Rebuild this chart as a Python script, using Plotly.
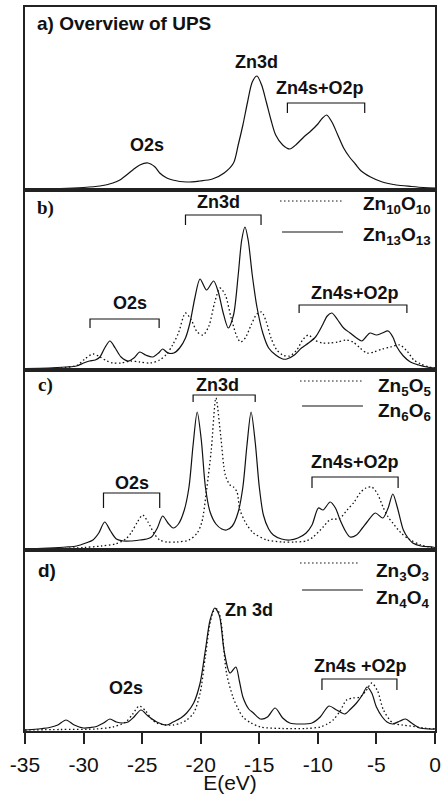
import plotly.graph_objects as go
from plotly.subplots import make_subplots

# ---------------- data (energy in eV, intensity in arbitrary units) ----------------
# a) Overview of UPS
E_a = [-35, -32, -30, -28.6, -27.5, -26.9, -25.8, -25.2, -24.5, -23.9, -23.5, -22.9, -22.4, -21.2, -20.1,
       -19, -18, -17.2, -16.8, -16.4, -16, -15.6, -15.2, -14.8, -14.4, -14, -13.6, -13, -12.4, -11.8,
       -11.2, -10.6, -10, -9.6, -9.25, -8.8, -8.3, -7.8, -7.3, -6.8, -6.3, -5.5, -4.5, -3.3, -2, -1, 0]
I_a = [1, 1.5, 2.5, 4, 7, 10, 20, 25, 27, 23, 17, 12, 10, 8, 9,
       11, 17, 27, 45, 65, 88, 108, 114, 105, 88, 70, 55, 45, 41, 46,
       53, 59, 66, 72, 75, 68, 55, 42, 33, 26, 19, 13, 8, 5, 3.5, 2.5, 2]

# b) Zn10O10 (dotted) and Zn13O13 (solid)
E_b10 = [-35, -32, -30.5, -29.9, -29.2, -28.6, -28, -27.5, -26.8, -26, -25.2, -24.3, -23.5, -22.9, -22.4,
         -21.9, -21.3, -20.8, -20.3, -19.8, -19.3, -18.8, -18.35, -17.9, -17.4, -16.9, -16.6, -16.2, -15.7, -15.2,
         -14.8, -14.4, -14, -13.5, -13, -12.4, -11.8, -11.3, -10.8, -10.3, -9.6, -9, -8.3, -7.6, -7,
         -6.4, -5.8, -5.2, -4.5, -3.8, -3, -2.4, -1.8, -1.2, -0.5, 0]
I_b10 = [1, 2, 5, 11, 16, 13, 9, 7, 7, 9, 8, 7, 10, 16, 25,
         37, 57, 50, 38, 35, 44, 68, 82, 75, 52, 33, 28, 32, 45, 56,
         58, 48, 32, 20, 15, 14, 20, 30, 35, 30, 27, 27, 28, 30, 28,
         22, 17, 18, 21, 23, 25, 19, 10, 6, 3, 2]
E_b13 = [-35, -33, -31.5, -30.6, -30, -29.5, -29, -28.6, -28.2, -27.75, -27.3, -26.8, -26.2, -25.7, -25.2,
         -24.7, -24.1, -23.6, -23.25, -22.8, -22.3, -21.8, -21.3, -20.9, -20.5, -20.06, -19.5, -18.9, -18.5, -18.1,
         -17.65, -17.2, -16.8, -16.5, -16.22, -15.95, -15.6, -15.2, -14.7, -14.2, -13.6, -13, -12.65, -12, -11.4,
         -10.8, -10.2, -9.6, -9.2, -8.8, -8.3, -7.8, -7.25, -6.7, -6.25, -5.9, -5.55, -5, -4.5, -4,
         -3.6, -3.25, -2.7, -2.1, -1.4, -0.7, 0]
I_b13 = [1.5, 2, 3, 4, 7, 9, 10, 13, 22, 29, 22, 13, 9, 12, 18,
         15, 13, 17, 21, 17, 17, 22, 32, 48, 72, 91, 80, 89, 78, 58,
         42, 55, 95, 130, 143, 130, 95, 63, 37, 22, 15, 11, 11, 15, 22,
         27, 33, 45, 54, 57, 50, 42, 37, 32, 29, 33, 37, 35, 37, 39,
         33, 23, 14, 8, 5, 3, 2]

# c) Zn5O5 (dotted) and Zn6O6 (solid)
E_c5 = [-35, -32, -30, -28.5, -27.3, -26.4, -25.9, -25.4, -24.95, -24.5, -24, -23.5, -22.9, -22, -21,
        -20.3, -19.9, -19.5, -19.1, -18.7, -18.3, -17.9, -17.5, -17.2, -16.9, -16.65, -16.1, -15.5, -14.35, -13,
        -12, -11, -10.4, -9.55, -9, -8.6, -8.2, -7.5, -6.9, -6.4, -5.9, -5.4, -4.9, -4.44, -4,
        -3.6, -2.9, -2.1, -1.2, -0.5, 0]
I_c5 = [1, 1.5, 2.5, 4, 6, 11, 18, 28, 35, 28, 17, 10, 8, 8, 10,
        17, 28, 60, 100, 152, 115, 75, 65, 63, 58, 40, 26, 17, 10, 8,
        8, 9, 13, 23, 30, 31, 31, 40, 48, 57, 62, 63, 56, 43, 33,
        27, 17, 10, 5, 3, 2]
E_c6 = [-35, -33, -31.5, -30.6, -29.8, -29.2, -28.7, -28.2, -27.7, -27.2, -26.6, -26, -25.2, -24.6, -24.2,
        -23.7, -23.25, -22.8, -22.35, -21.9, -21.4, -21, -20.65, -20.3, -19.95, -19.6, -19.2, -18.7, -18.2, -17.8,
        -17.3, -16.8, -16.4, -16.05, -15.7, -15.35, -15, -14.65, -14.2, -13.8, -13.1, -12.4, -11.7, -11, -10.5,
        -9.95, -9.55, -8.95, -8.5, -8.1, -7.6, -7.25, -6.7, -6.2, -5.8, -5.1, -4.45, -4, -3.6, -3.2,
        -2.7, -2.3, -1.9, -1.2, -0.2, 0]
I_c6 = [1, 2, 3, 4, 7, 10, 17, 28, 19, 11, 9, 9, 10, 11, 13,
        22, 34, 27, 22, 26, 40, 63, 105, 138, 110, 63, 38, 26, 21, 20,
        24, 38, 63, 105, 138, 108, 63, 35, 21, 15, 11, 10, 12, 17, 25,
        42, 40, 48, 42, 30, 18, 13, 15, 22, 28, 37, 32, 42, 56, 42,
        20, 12, 7, 4, 3, 2.5]

# d) Zn3O3 (dotted) and Zn4O4 (solid)
E_d3 = [-35, -32, -29, -27.5, -26.4, -25.8, -25.25, -24.7, -24.2, -23.75, -23, -22.35, -21.7, -21.2, -20.6,
        -20.05, -19.6, -19.2, -18.9, -18.6, -18.3, -17.8, -17.25, -16.8, -16.4, -15.7, -14.9, -13, -11, -9.8,
        -9.2, -8.7, -8.1, -7.55, -7, -6.4, -5.9, -5.4, -4.9, -4.4, -3.6, -2.8, -2.1, -1, 0]
I_d3 = [1, 1.5, 2, 4, 9, 17, 25, 20, 12, 8, 6, 6, 8, 11, 18,
        38, 75, 108, 120, 122, 112, 58, 34, 22, 14, 8, 4, 2.5, 2.5, 4,
        7, 11, 20, 31, 33, 34, 40, 48, 40, 21, 8, 6, 5, 3, 2]
E_d4 = [-35, -34.4, -33.5, -32.9, -32.2, -31.5, -30.8, -30, -29.4, -28.9, -28.3, -27.75, -27.2, -26.7, -26.2,
        -25.7, -25.1, -24.5, -23.75, -22.9, -22.35, -21.7, -21.2, -20.6, -20.05, -19.6, -19.2, -18.8, -18.4, -18,
        -17.5, -17, -16.7, -16.4, -15.9, -15.5, -14.9, -14.3, -13.65, -13, -12.4, -11.5, -10.5, -9.8, -9.05,
        -8.4, -7.7, -7.2, -6.7, -6.2, -5.8, -5.4, -5, -4.5, -4.1, -3.6, -3, -2.5, -2, -1.3,
        -0.5, 0]
I_d4 = [1, 1.5, 2.5, 3.5, 6, 11, 6, 3, 3.5, 4.5, 8, 12, 9, 8, 9,
        14, 21, 15, 9, 6, 9, 13, 18, 28, 48, 81, 111, 123, 115, 80,
        58, 64, 50, 34, 22, 18, 12, 14, 23, 13, 8, 7, 8, 14, 25,
        21, 17, 22, 28, 36, 44, 38, 24, 14, 9, 7, 10, 12, 8, 3,
        2, 2]

TICK_VALS = [-35, -30, -25, -20, -15, -10, -5, 0]
TICK_TEXT = ["-35", "-30", "-25", "-20", "-15", "-10", "-5", "0"]

# ---------------- figure ----------------
SANS = "Liberation Sans, Arial, sans-serif"
SERIF = "Liberation Serif, Times New Roman, serif"
INK = "#111111"
ROW_H = [183, 180, 180, 181]

fig = make_subplots(rows=4, cols=1, shared_xaxes=True, vertical_spacing=0,
                    row_heights=ROW_H)


def curve(row, x, y, dotted=False):
    fig.add_trace(go.Scatter(
        x=x, y=y, mode="lines", showlegend=False, hoverinfo="skip",
        line=dict(color=INK, width=1.3 if dotted else 1.2,
                  dash="1.5px,2.5px" if dotted else "solid",
                  shape="spline", smoothing=0.8)), row=row, col=1)


curve(1, E_a, I_a)
curve(2, E_b10, I_b10, True)
curve(2, E_b13, I_b13)
curve(3, E_c5, I_c5, True)
curve(3, E_c6, I_c6)
curve(4, E_d3, I_d3, True)
curve(4, E_d4, I_d4)


def label(row, x, y, text, size=18, xanchor="center", family=SANS):
    fig.add_annotation(row=row, col=1, x=x, y=y, text=text, showarrow=False,
                       xanchor=xanchor, yanchor="middle",
                       font=dict(family=family, size=size, color=INK))


def bracket(row, x0, x1, ytop, ylow):
    fig.add_shape(row=row, col=1, type="path",
                  path=f"M {x0},{ylow} L {x0},{ytop} L {x1},{ytop} L {x1},{ylow}",
                  line=dict(color=INK, width=1.2))


def legend_line(row, x0, x1, y, dotted):
    fig.add_shape(row=row, col=1, type="line", x0=x0, x1=x1, y0=y, y1=y,
                  line=dict(color=INK, width=1.2, dash="1.5px,2.5px" if dotted else "solid"))


# panel a
label(1, -34.15, 167, "<b>a) Overview of UPS</b>", 19, "left")
label(1, -15.2, 128, "<b>Zn3d</b>")
label(1, -9.8, 102, "<b>Zn4s+O2p</b>")
bracket(1, -12.6, -6.0, 87, 77)
label(1, -24.6, 45, "<b>O2s</b>")

# panel b
label(2, -34.15, 162, "<b>b)</b>", 19, "left", SERIF)
label(2, -18.5, 168, "<b>Zn3d</b>")
bracket(2, -21.3, -14.85, 155, 145)
legend_line(2, -13.23, -7.94, 169, True)
legend_line(2, -13.06, -7.85, 138, False)
label(2, -0.17, 165, "<b>Zn<sub>10</sub>O<sub>10</sub></b>", 19, "right")
label(2, -0.17, 134, "<b>Zn<sub>13</sub>O<sub>13</sub></b>", 19, "right")
label(2, -26.0, 67, "<b>O2s</b>")
bracket(2, -29.45, -23.55, 51, 42)
label(2, -6.8, 77, "<b>Zn4s+O2p</b>")
bracket(2, -11.6, -2.4, 65, 57)

# panel c
label(3, -34.06, 165, "<b>c)</b>", 19, "left", SERIF)
label(3, -18.6, 165, "<b>Zn3d</b>")
bracket(3, -20.65, -15.35, 155, 148)
legend_line(3, -11.52, -6.23, 169, True)
legend_line(3, -11.35, -6.15, 144, False)
label(3, -0.17, 163, "<b>Zn<sub>5</sub>O<sub>5</sub></b>", 19, "right")
label(3, -0.17, 138, "<b>Zn<sub>6</sub>O<sub>6</sub></b>", 19, "right")
label(3, -25.9, 67, "<b>O2s</b>")
bracket(3, -28.3, -23.5, 57, 42)
label(3, -6.8, 88, "<b>Zn4s+O2p</b>")
bracket(3, -10.5, -3.15, 73, 62)

# panel d
label(4, -34.06, 161, "<b>d)</b>", 19, "left")
legend_line(4, -11.52, -6.4, 168, True)
legend_line(4, -11.35, -6.15, 141, False)
label(4, -0.3, 159, "<b>Zn<sub>3</sub>O<sub>3</sub></b>", 19, "right")
label(4, -0.3, 132, "<b>Zn<sub>4</sub>O<sub>4</sub></b>", 19, "right")
label(4, -15.9, 121, "<b>Zn 3d</b>")
label(4, -6.4, 65, "<b>Zn4s +O2p</b>")
bracket(4, -9.65, -3.25, 52, 41)
label(4, -26.4, 43, "<b>O2s</b>")

for r in range(1, 5):
    fig.update_xaxes(row=r, col=1, range=[-35, 0], showline=True, mirror=True,
                     linecolor="#222222", linewidth=1.5, showgrid=False, zeroline=False,
                     automargin=False, showticklabels=(r == 4),
                     ticks="outside" if r == 4 else "")
    fig.update_yaxes(row=r, col=1, range=[0, ROW_H[r - 1]], showline=True, mirror=True,
                     linecolor="#222222", linewidth=1.5, showgrid=False, zeroline=False,
                     showticklabels=False, ticks="", automargin=False, fixedrange=True)

fig.update_xaxes(row=4, col=1, tickvals=TICK_VALS, ticktext=TICK_TEXT, ticklen=11,
                 tickwidth=1.5, tickcolor="#222222", ticklabelstandoff=3,
                 tickfont=dict(family=SANS, size=21, color=INK),
                 title=dict(text="E(eV)", standoff=6, font=dict(family=SANS, size=21, color=INK)))

fig.update_layout(width=443, height=794, margin=dict(l=25, r=8, t=7, b=63),
                  paper_bgcolor="white", plot_bgcolor="white", showlegend=False)

fig.write_html("out.html", config={"displayModeBar": False},
               post_script="document.body.style.margin='0';document.body.style.overflow='hidden';")
